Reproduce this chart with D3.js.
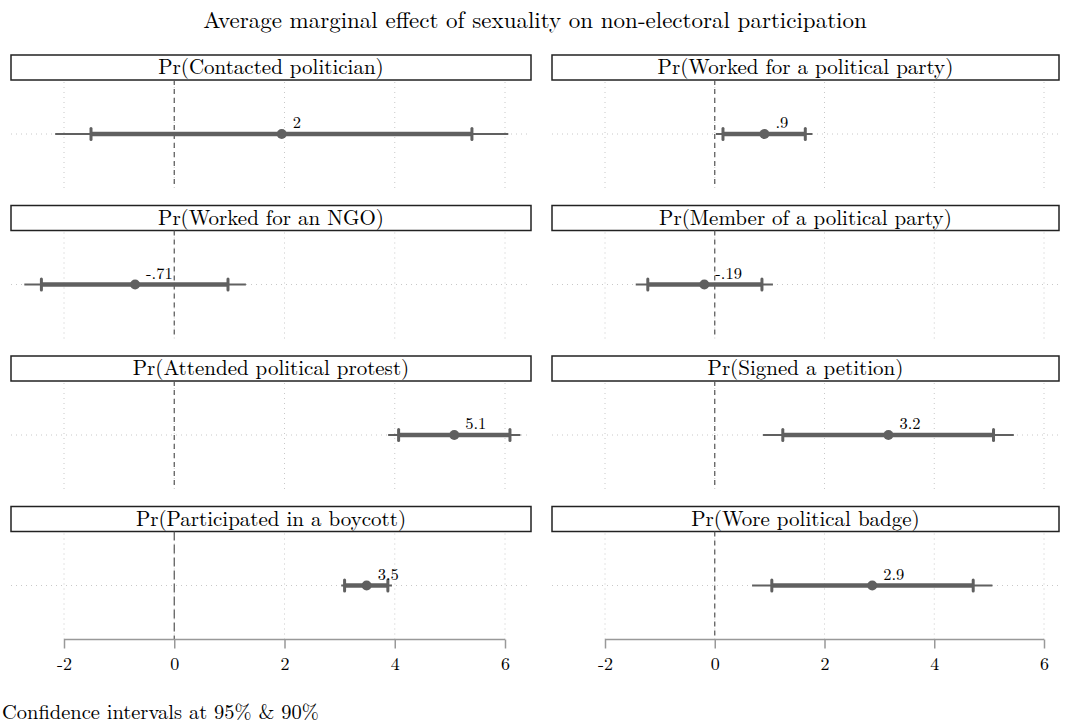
<!DOCTYPE html>
<html>
<head>
<meta charset="utf-8">
<script src="https://cdn.jsdelivr.net/npm/d3@7"></script>
<style>
  body { margin: 0; background: #fff; }
  svg { font-family: "Latin Modern Roman", "CMU Serif", "Liberation Serif", serif; }
</style>
</head>
<body>
<div id="chart"></div>
<script>
// panel titles, row by row (left, right)
var panels = [
  "Pr(Contacted politician)", "Pr(Worked for a political party)",
  "Pr(Worked for an NGO)", "Pr(Member of a political party)",
  "Pr(Attended political protest)", "Pr(Signed a petition)",
  "Pr(Participated in a boycott)", "Pr(Wore political badge)"
];
// point estimates and their labels
var estimates = [1.95, 0.905, -0.71, -0.19, 5.08, 3.165, 3.49, 2.87];
var valueLabels = ["2", ".9", "-.71", "-.19", "5.1", "3.2", "3.5", "2.9"];
// 90% intervals (thick)
var lo90 = [-1.51, 0.15, -2.41, -1.22, 4.07, 1.24, 3.09, 1.04];
var hi90 = [5.40, 1.65, 0.975, 0.86, 6.09, 5.08, 3.875, 4.71];
// 95% intervals (thin)
var lo95 = [-2.16, 0.02, -2.72, -1.44, 3.88, 0.88, 3.03, 0.68];
var hi95 = [6.06, 1.78, 1.30, 1.06, 6.28, 5.45, 3.95, 5.06];
// x axis ticks
var xTicks = [-2, 0, 2, 4, 6];

var W = 1069, H = 725;
var lineCol = "#606060";

var svg = d3.select("#chart").append("svg")
    .attr("width", W)
    .attr("height", H);

// title
svg.append("text")
    .attr("x", 535).attr("y", 28)
    .attr("text-anchor", "middle")
    .style("font-size", "23px")
    .text("Average marginal effect of sexuality on non-electoral participation");

// column extents and row tops
var cols = [{x0: 11, x1: 531, a: 64, b: 505}, {x0: 552, x1: 1059, a: 605, b: 1044}];
var rowTop = [55, 205.5, 356, 506.5];
var boxH = 25, plotH = 108;

panels.forEach(function(title, i) {
  var c = cols[i % 2], r = Math.floor(i / 2);
  var top = rowTop[r];
  var g = svg.append("g");

  var x = d3.scaleLinear().domain([-2, 6]).range([c.a, c.b]);
  var y0 = top + boxH, y1 = y0 + plotH;
  var yc = y0 + plotH / 2;

  // title box
  g.append("rect")
      .attr("x", c.x0).attr("y", top)
      .attr("width", c.x1 - c.x0).attr("height", boxH)
      .attr("fill", "#fff").attr("stroke", "#222").attr("stroke-width", 1.5);
  g.append("text")
      .attr("x", (c.x0 + c.x1) / 2).attr("y", top + 19)
      .attr("text-anchor", "middle")
      .style("font-size", "21px")
      .text(title);

  // vertical grid
  g.selectAll(".vg").data(xTicks).enter().append("line")
      .attr("x1", function(d) { return x(d); }).attr("x2", function(d) { return x(d); })
      .attr("y1", y0 + 2).attr("y2", y1)
      .attr("stroke", "#c8c8c8").attr("stroke-width", 1)
      .attr("stroke-dasharray", "1,4");

  // horizontal grid
  g.append("line")
      .attr("x1", c.x0).attr("x2", c.x1)
      .attr("y1", yc).attr("y2", yc)
      .attr("stroke", "#c8c8c8").attr("stroke-width", 1)
      .attr("stroke-dasharray", "1,4");

  // zero reference line
  g.append("line")
      .attr("x1", x(0)).attr("x2", x(0))
      .attr("y1", y0).attr("y2", y1)
      .attr("stroke", "#555").attr("stroke-width", 1.2)
      .attr("stroke-dasharray", i == 6 ? "9,4" : "5,4");

  // 95% interval
  g.append("line")
      .attr("x1", x(lo95[i])).attr("x2", x(hi95[i]))
      .attr("y1", yc).attr("y2", yc)
      .attr("stroke", lineCol).attr("stroke-width", 2);

  // 90% interval
  g.append("line")
      .attr("x1", x(lo90[i])).attr("x2", x(hi90[i]))
      .attr("y1", yc).attr("y2", yc)
      .attr("stroke", lineCol).attr("stroke-width", 4.5);
  g.selectAll(".cap").data([lo90[i], hi90[i]]).enter().append("line")
      .attr("x1", function(d) { return x(d); }).attr("x2", function(d) { return x(d); })
      .attr("y1", yc - 5.5).attr("y2", yc + 5.5)
      .attr("stroke", lineCol).attr("stroke-width", 3)
      .attr("stroke-linecap", "round");

  // estimate
  g.append("circle")
      .attr("cx", x(estimates[i])).attr("cy", yc).attr("r", 5)
      .attr("fill", lineCol);
  g.append("text")
      .attr("x", x(estimates[i]) + 11).attr("y", yc - 6)
      .style("font-size", "16.5px")
      .text(valueLabels[i]);

  // bottom axis on last row
  if (r == 3) {
    var ax = g.append("g")
        .attr("transform", "translate(0," + y1 + ")")
        .call(d3.axisBottom(x).tickValues(xTicks).tickSize(9).tickPadding(9)
              .tickFormat(function(d) { return String(d); }));
    ax.attr("font-family", null).attr("font-size", null);
    ax.select(".domain").attr("stroke", "#999").attr("stroke-width", 1.5)
        .attr("d", "M" + x(-2) + ",0H" + x(6));
    ax.selectAll(".tick line").attr("stroke", "#999").attr("stroke-width", 1.5);
    ax.selectAll(".tick text")
        .style("font-size", "18px")
        .attr("fill", "#000");
  }
});

// footnote
svg.append("text")
    .attr("x", 2).attr("y", 719)
    .style("font-size", "20.5px")
    .text("Confidence intervals at 95% & 90%");
</script>
</body>
</html>
